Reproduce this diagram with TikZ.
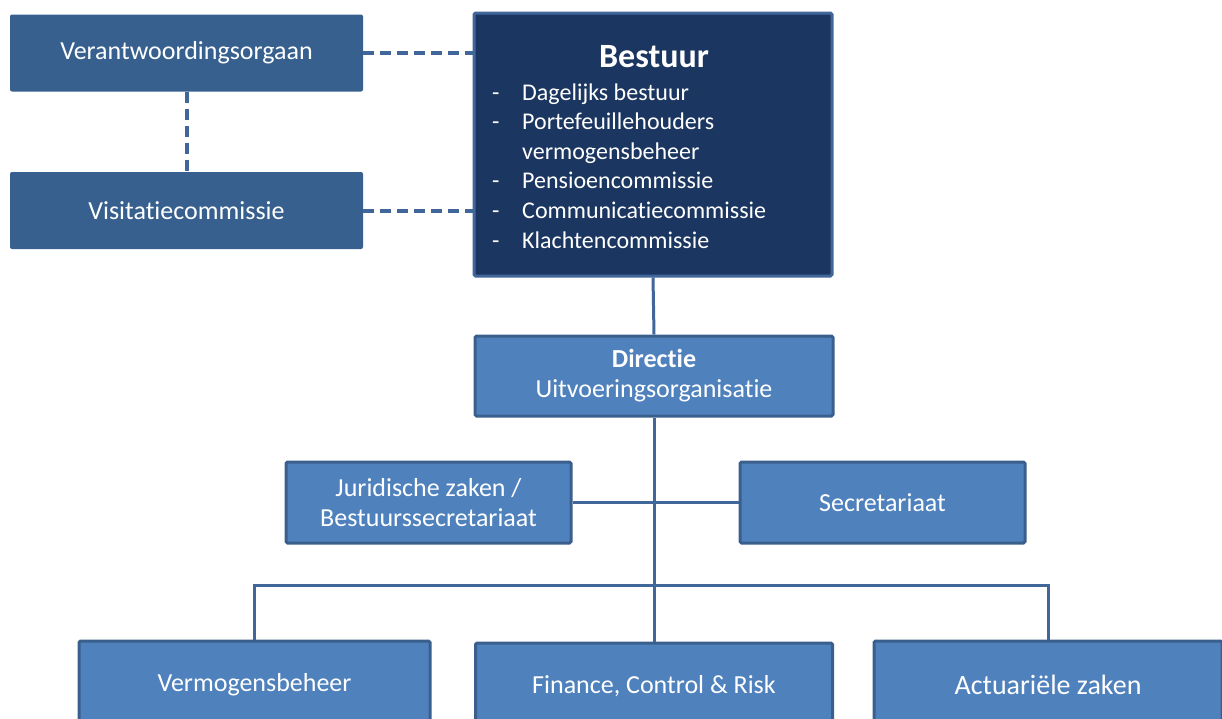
\documentclass[tikz,border=0pt]{standalone}
\usepackage{fontspec}
\setmainfont[Ligatures=NoCommon]{Carlito}
\usetikzlibrary{positioning}
\definecolor{sidebox}{HTML}{37608F}
\definecolor{boardfill}{HTML}{1B3660}
\definecolor{boardline}{HTML}{41679A}
\definecolor{unitfill}{HTML}{4F81BD}
\definecolor{unitline}{HTML}{3A5F8D}
\definecolor{linkline}{HTML}{41669A}

\begin{document}
\begin{tikzpicture}[x=1pt,y=-1pt,
    sideunit/.style={fill=sidebox, text=white, inner sep=0pt, rounded corners=2pt,
        minimum width=353pt, minimum height=77pt, font=\fontsize{26}{30}\selectfont},
    unit/.style={fill=unitfill, draw=unitline, line width=3pt, text=white, inner sep=0pt,
        rounded corners=1.5pt, align=center, font=\fontsize{26}{30}\selectfont},
    listtext/.style={anchor=base west, text=white, inner sep=0pt, font=\fontsize{24}{30}\selectfont},
    solidlink/.style={draw=linkline, line width=3pt},
    dashlink/.style={draw=linkline, line width=4pt, dash pattern=on 11pt off 6pt}]

	%Page size as the screenshot, bottom row is cut off
	\useasboundingbox (0,0) rectangle (1222,718);
	\clip (0,0) rectangle (1222,718);

	%Left column
	\node[sideunit] (verant) at (186.5,53) {Verantwoordingsorgaan};
	\node[sideunit] (visit) at (186.5,210.5) {Visitatiecommissie};

	%Board with its list
	\node[fill=boardfill, draw=boardline, line width=3pt, rounded corners=1.5pt,
		minimum width=358pt, minimum height=263pt, inner sep=0pt] (bestuur) at (653,144.5) {};
	\node[anchor=base, text=white, inner sep=0pt, font=\bfseries\fontsize{34}{38}\selectfont]
		(besttitle) at (654,67) {Bestuur};
	\foreach \y/\entry [count=\n] in {100/Dagelijks bestuur, 129.6/Portefeuillehouders,
		159.2/vermogensbeheer, 188.8/Pensioencommissie, 218.4/Communicatiecommissie,
		248/Klachtencommissie}
		\node[listtext] (entry\n) at (522,\y) {\entry};
	\foreach \y [count=\n] in {100,129.6,188.8,218.4,248}
		\node[listtext] (dash\n) at (492,\y) {-};

	%Executive and staff
	\node[unit, minimum width=358pt, minimum height=80pt] (directie) at (654,376)
		{\textbf{Directie}\\Uitvoeringsorganisatie};
	\node[unit, minimum width=285pt, minimum height=81pt] (jur) at (428.5,502.5)
		{Juridische zaken /\\Bestuurssecretariaat};
	\node[unit, minimum width=285pt, minimum height=81pt] (secr) at (882.5,502.5) {Secretariaat};

	%Departments
	\node[unit, minimum width=351pt, minimum height=88pt] (verm) at (254.5,685) {Vermogensbeheer};
	\node[unit, minimum width=357pt, minimum height=86pt] (fin) at (654,686) {Finance, Control \& Risk};
	\node[unit, minimum width=348pt, minimum height=88pt, font=\fontsize{28}{32}\selectfont]
		(act) at (1048,685) {Actuariële zaken};

	%Connectors
	\coordinate (bus) at (654,585);
	\draw[dashlink] (verant.east) -- (verant.east -| bestuur.west);
	\draw[dashlink] (visit.east) -- (visit.east -| bestuur.west);
	\draw[dashlink] (verant.south) -- (visit.north);
	\draw[solidlink] (bestuur.south) -- (directie.north);
	\draw[solidlink] (directie.south) -- (fin.north);
	\draw[solidlink] (jur.east) -- (secr.west);
	\draw[solidlink] (verm.north) |- (bus) -| (act.north);

\end{tikzpicture}
\end{document}
